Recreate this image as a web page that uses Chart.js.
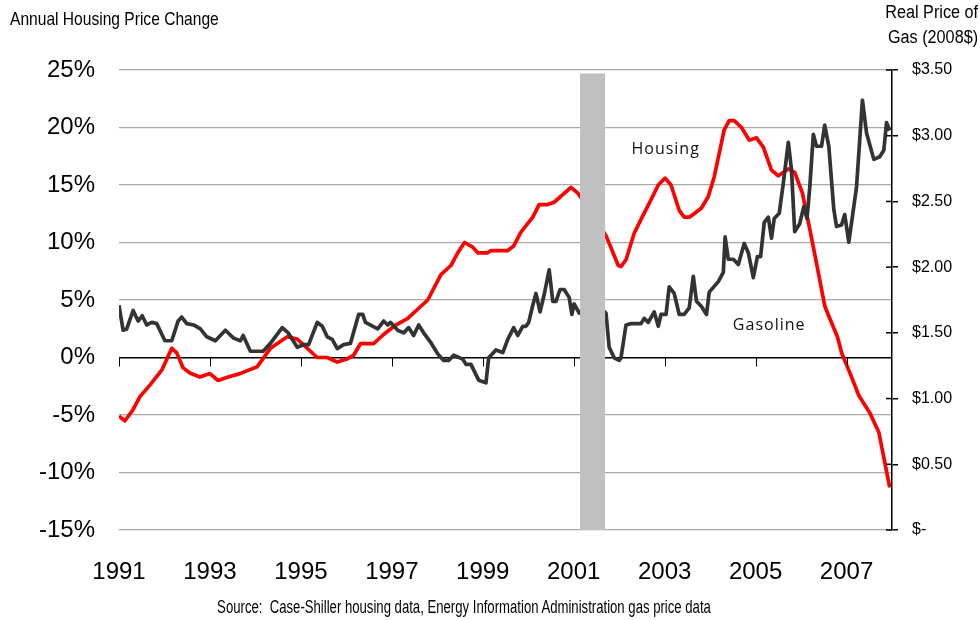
<!DOCTYPE html>
<html><head><meta charset="utf-8">
<script src="https://cdn.jsdelivr.net/npm/chart.js@4.4.0/dist/chart.umd.min.js"></script>
<style>
html,body{margin:0;padding:0;background:#fff;}
#wrap{position:relative;width:980px;height:620px;overflow:hidden;}
#c{position:absolute;left:0;top:0;}
.t{position:absolute;font-family:"Liberation Sans",Arial,sans-serif;color:#000;white-space:nowrap;}
#tl{left:10px;top:8px;font-size:19px;line-height:22px;transform:scaleX(0.82);transform-origin:0 0;}
#tr{right:2px;top:0px;font-size:18px;line-height:25px;text-align:right;transform:scaleX(0.9);transform-origin:100% 0;}
#src{left:464px;top:597px;font-size:18px;line-height:20px;transform:translateX(-50%) scaleX(0.73);}
</style></head>
<body>
<div id="wrap">
<canvas id="c" width="980" height="620"></canvas>
<div class="t" id="tl">Annual Housing Price Change</div>
<div class="t" id="tr">Real Price of<br>Gas (2008$)</div>
<div class="t" id="src">Source:&nbsp; Case-Shiller housing data, Energy Information Administration gas price data</div>
</div>
<script>
const TICK_YEARS = [1991,1993,1995,1997,1999,2001,2003,2005,2007];
const PCT_TICKS = [-15,-10,-5,0,5,10,15,20,25];
const GAS_TICKS = [0,0.5,1,1.5,2,2.5,3,3.5];

const HOUSING_DATES = [1991.00,1991.13,1991.30,1991.46,1991.68,1991.94,1992.09,1992.16,1992.27,1992.41,1992.56,1992.78,1993.00,1993.18,1993.40,1993.66,1994.04,1994.33,1994.70,1994.92,1995.36,1995.58,1995.80,1996.03,1996.16,1996.31,1996.60,1996.82,1997.04,1997.35,1997.79,1998.08,1998.30,1998.45,1998.60,1998.78,1998.89,1999.11,1999.18,1999.55,1999.68,1999.84,2000.10,2000.24,2000.43,2000.57,2000.94,2001.09,2001.40,2001.71,2001.98,2002.04,2002.15,2002.33,2002.53,2002.66,2002.86,2003.01,2003.14,2003.32,2003.43,2003.54,2003.65,2003.81,2003.96,2004.09,2004.31,2004.42,2004.53,2004.69,2004.86,2005.02,2005.17,2005.35,2005.50,2005.72,2005.86,2006.03,2006.20,2006.36,2006.52,2006.62,2006.80,2006.90,2007.05,2007.27,2007.51,2007.71,2007.95];
const HOUSING_VALUES = [-5.1,-5.5,-4.6,-3.4,-2.4,-1.1,0.2,0.8,0.4,-0.9,-1.35,-1.7,-1.4,-2.0,-1.7,-1.4,-0.8,0.8,1.8,1.6,0.0,0.0,-0.4,-0.1,0.2,1.2,1.2,2.0,2.7,3.4,5.0,7.2,8.0,9.1,10.0,9.6,9.1,9.1,9.3,9.3,9.7,10.9,12.2,13.3,13.3,13.5,14.8,14.3,12.6,10.6,8.0,7.9,8.5,10.8,12.4,13.4,15.0,15.6,15.0,12.8,12.2,12.2,12.5,13.0,14.0,15.7,19.8,20.6,20.6,20.0,18.9,19.1,18.3,16.3,15.8,16.4,16.1,14.3,11.0,7.8,4.5,3.5,1.8,0.3,-1.1,-3.3,-4.8,-6.5,-11.3];

const GAS_DATES = [1991.00,1991.09,1991.17,1991.31,1991.42,1991.51,1991.61,1991.72,1991.83,1992.01,1992.16,1992.30,1992.38,1992.49,1992.64,1992.79,1992.93,1993.12,1993.34,1993.52,1993.67,1993.73,1993.89,1994.17,1994.33,1994.59,1994.72,1994.92,1995.06,1995.17,1995.36,1995.47,1995.58,1995.69,1995.80,1995.94,1996.09,1996.27,1996.36,1996.42,1996.69,1996.82,1996.91,1996.97,1997.13,1997.26,1997.37,1997.48,1997.59,1997.70,1997.85,1998.01,1998.14,1998.25,1998.36,1998.56,1998.63,1998.74,1998.91,1999.07,1999.13,1999.29,1999.44,1999.55,1999.68,1999.77,1999.88,1999.95,2000.01,2000.10,2000.17,2000.26,2000.35,2000.46,2000.54,2000.61,2000.70,2000.79,2000.90,2000.96,2001.01,2001.12,2001.40,2001.71,2001.78,2001.89,2002.00,2002.04,2002.15,2002.26,2002.48,2002.55,2002.64,2002.77,2002.86,2002.92,2003.03,2003.10,2003.21,2003.32,2003.43,2003.54,2003.63,2003.70,2003.81,2003.92,2003.98,2004.18,2004.29,2004.33,2004.40,2004.51,2004.62,2004.75,2004.84,2004.95,2005.04,2005.11,2005.19,2005.28,2005.35,2005.41,2005.52,2005.61,2005.72,2005.79,2005.86,2005.97,2006.06,2006.13,2006.19,2006.27,2006.34,2006.45,2006.52,2006.61,2006.72,2006.78,2006.89,2006.96,2007.05,2007.22,2007.35,2007.44,2007.60,2007.73,2007.82,2007.88,2007.95];
const GAS_VALUES = [1.71,1.52,1.53,1.67,1.59,1.63,1.56,1.58,1.57,1.44,1.44,1.59,1.62,1.57,1.56,1.53,1.47,1.44,1.52,1.46,1.44,1.48,1.36,1.36,1.42,1.54,1.50,1.39,1.41,1.41,1.58,1.55,1.47,1.45,1.38,1.41,1.42,1.64,1.64,1.58,1.53,1.59,1.56,1.58,1.52,1.50,1.54,1.48,1.56,1.50,1.43,1.34,1.29,1.29,1.33,1.30,1.26,1.26,1.14,1.12,1.31,1.37,1.35,1.45,1.54,1.48,1.55,1.55,1.58,1.71,1.80,1.66,1.79,1.98,1.74,1.74,1.83,1.83,1.77,1.64,1.72,1.65,1.75,1.65,1.39,1.31,1.29,1.31,1.56,1.57,1.57,1.61,1.58,1.66,1.55,1.64,1.64,1.85,1.80,1.64,1.64,1.69,1.93,1.74,1.70,1.64,1.81,1.89,1.96,2.23,2.06,2.06,2.02,2.18,2.11,1.92,2.08,2.08,2.34,2.38,2.22,2.37,2.41,2.64,2.95,2.74,2.27,2.33,2.46,2.37,2.60,3.01,2.92,2.92,3.08,2.92,2.44,2.31,2.32,2.40,2.19,2.61,3.27,3.02,2.82,2.84,2.89,3.10,3.04];

const RECESSION = [2001.14, 2001.69];
const RECESSION_TOP = 24.7;
const SERIES_NAMES = ['Housing','Gasoline'];
const NAME_ANCHORS = [{x:2002.27, y:17.7}, {x:2004.50, y:2.35}];

const FONT = '"Liberation Sans", Arial, sans-serif';

const extras = {
  id: 'extras',
  afterDatasetsDraw(chart) {
    const ctx = chart.ctx, xs = chart.scales.x, ys = chart.scales.y, y1 = chart.scales.y1;
    ctx.save();
    // zero-line tick marks
    const y0 = ys.getPixelForValue(0);
    ctx.strokeStyle = '#000'; ctx.lineWidth = 1;
    TICK_YEARS.forEach(v => {
      const px = Math.round(xs.getPixelForValue(v)) + 0.5;
      ctx.beginPath(); ctx.moveTo(px, y0); ctx.lineTo(px, y0 + 9); ctx.stroke();
    });
    // right axis inner tick marks
    ctx.lineWidth = 1.5;
    GAS_TICKS.forEach(v => {
      const py = y1.getPixelForValue(v);
      ctx.beginPath(); ctx.moveTo(y1.left - 6, py); ctx.lineTo(y1.left, py); ctx.stroke();
    });
    // recession bar
    const xa = xs.getPixelForValue(RECESSION[0]), xb = xs.getPixelForValue(RECESSION[1]);
    const ya = ys.getPixelForValue(RECESSION_TOP), yb = ys.getPixelForValue(ys.min);
    ctx.fillStyle = '#c0c0c0';
    ctx.fillRect(xa, ya, xb - xa, yb - ya);
    // series names
    ctx.fillStyle = '#111';
    ctx.font = '16px "Open Sans", "DejaVu Sans", sans-serif';
    if ('letterSpacing' in ctx) ctx.letterSpacing = '1px';
    ctx.textAlign = 'left'; ctx.textBaseline = 'alphabetic';
    SERIES_NAMES.forEach((n, i) => {
      ctx.fillText(n, xs.getPixelForValue(NAME_ANCHORS[i].x), ys.getPixelForValue(NAME_ANCHORS[i].y));
    });
    ctx.restore();
  }
};

new Chart(document.getElementById('c'), {
  type: 'line',
  data: {
    datasets: [
      {
        label: 'Gasoline',
        data: GAS_DATES.map((d, i) => ({x: d, y: GAS_VALUES[i]})),
        yAxisID: 'y1',
        borderColor: '#333333',
        borderWidth: 3.7,
        pointRadius: 0,
        tension: 0,
        borderJoinStyle: 'round',
        fill: false
      },
      {
        label: 'Housing',
        data: HOUSING_DATES.map((d, i) => ({x: d, y: HOUSING_VALUES[i]})),
        yAxisID: 'y',
        borderColor: '#ff0000',
        borderWidth: 3.7,
        pointRadius: 0,
        tension: 0,
        borderJoinStyle: 'round',
        fill: false
      }
    ]
  },
  options: {
    responsive: false,
    animation: false,
    devicePixelRatio: 1,
    layout: {padding: {top: 70, left: 0, right: 0, bottom: 0}},
    plugins: {legend: {display: false}, tooltip: {enabled: false}, title: {display: false}},
    scales: {
      x: {
        type: 'linear', min: 1991, max: 2008,
        afterBuildTicks: s => { s.ticks = TICK_YEARS.map(v => ({value: v})); },
        afterFit: s => { s.height = 90; },
        ticks: {callback: v => String(v), font: {family: FONT, size: 24}, color: '#000', padding: 28, maxRotation: 0, autoSkip: false},
        grid: {display: false, drawTicks: false},
        border: {display: false}
      },
      y: {
        position: 'left', min: -15, max: 25,
        afterBuildTicks: s => { s.ticks = PCT_TICKS.map(v => ({value: v})); },
        afterFit: s => { s.width = 119; },
        ticks: {callback: v => v + '%', font: {family: FONT, size: 24}, color: '#000', padding: 24},
        grid: {
          drawTicks: false,
          color: c => (c.tick && c.tick.value === 0) ? '#000' : '#a8a8a8',
          lineWidth: c => (c.tick && c.tick.value === 0) ? 1.5 : 1.2
        },
        border: {display: false}
      },
      y1: {
        position: 'right', min: 0, max: 3.5,
        afterBuildTicks: s => { s.ticks = GAS_TICKS.map(v => ({value: v})); },
        afterFit: s => { s.width = 88; },
        ticks: {callback: v => v === 0 ? '$-' : '$' + v.toFixed(2), font: {family: FONT, size: 16}, color: '#000', padding: 14},
        grid: {drawOnChartArea: false, drawTicks: true, tickLength: 6, color: '#000', lineWidth: 1.5},
        border: {display: true, color: '#000', width: 1.5}
      }
    }
  },
  plugins: [extras]
});
</script>
</body></html>
